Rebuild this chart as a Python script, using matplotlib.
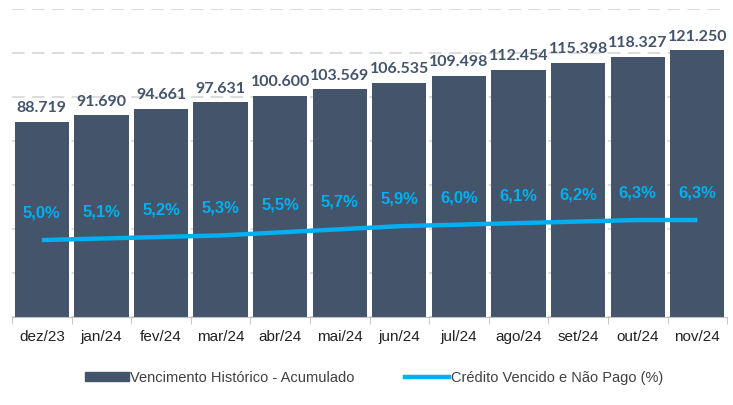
import matplotlib
matplotlib.use("Agg")
import matplotlib.pyplot as plt
from matplotlib.patches import Patch
from matplotlib.lines import Line2D
import numpy as np

categories = ["dez/23", "jan/24", "fev/24", "mar/24", "abr/24", "mai/24",
              "jun/24", "jul/24", "ago/24", "set/24", "out/24", "nov/24"]
vencimento = [88.719, 91.690, 94.661, 97.631, 100.600, 103.569,
              106.535, 109.498, 112.454, 115.398, 118.327, 121.250]
credito_pct = [5.0, 5.1, 5.2, 5.3, 5.5, 5.7, 5.9, 6.0, 6.1, 6.2, 6.3, 6.3]

bar_color = "#44546A"
line_color = "#00B0F0"
narrow = "Liberation Sans"

fig = plt.figure(figsize=(7.33, 4.05), dpi=100)
ax = fig.add_axes([0.0164, 0.217, 0.9756, 0.761])
x = np.arange(len(categories))

ax.bar(x, vencimento, width=0.91, color=bar_color, zorder=2)
ax.set_ylim(0, 140)
ax.set_xlim(-0.5, len(categories) - 0.5)
ax.set_yticks(np.arange(0, 141, 20))
ax.yaxis.grid(True, color="#D9D9D9", linestyle=(0, (7, 4)), linewidth=1.3, zorder=0)
for s in ["left", "right", "top"]:
    ax.spines[s].set_visible(False)
ax.spines["bottom"].set_color("#BFBFBF")
ax.set_xticks(x)
ax.set_xticklabels(categories, fontsize=11, family=narrow, color="#222222")
ax.set_xticks(np.arange(-0.5, len(categories), 1), minor=True)
ax.tick_params(axis="x", which="major", length=0, pad=9)
ax.tick_params(axis="x", which="minor", length=5, color="#BFBFBF")

for xi, v in zip(x, vencimento):
    ax.text(xi, v + 3, f"{v:.3f}", ha="center", va="bottom", fontsize=11.5,
            fontweight="bold", color=bar_color, family="Lato")

ax2 = ax.twinx()
ax2.set_ylim(0, 20)
ax2.plot(x, credito_pct, color=line_color, linewidth=3.2, solid_capstyle="butt", zorder=3)
ax2.axis("off")
for xi, p in zip(x, credito_pct):
    ax2.text(xi, p + 1.75, f"{p:.1f}".replace(".", ",") + "%", ha="center", va="center",
             fontsize=12, fontweight="bold", color=line_color, family=narrow)

ax.tick_params(axis="y", which="both", left=False, right=False, labelleft=False, labelright=False)

handles = [Patch(facecolor=bar_color, edgecolor=bar_color),
           Line2D([0], [0], color=line_color, linewidth=3.2)]
labels = ["Vencimento Histórico - Acumulado", "Crédito Vencido e Não Pago (%)"]
fig.legend(handles, labels, loc="center", bbox_to_anchor=(0.51, 0.067), ncol=2, frameon=False,
           prop={"family": narrow, "size": 10.5}, labelcolor="#404040",
           handlelength=3.0, handletextpad=0.1, columnspacing=3.5, handleheight=0.6)

fig.savefig("out.png", dpi=100)
